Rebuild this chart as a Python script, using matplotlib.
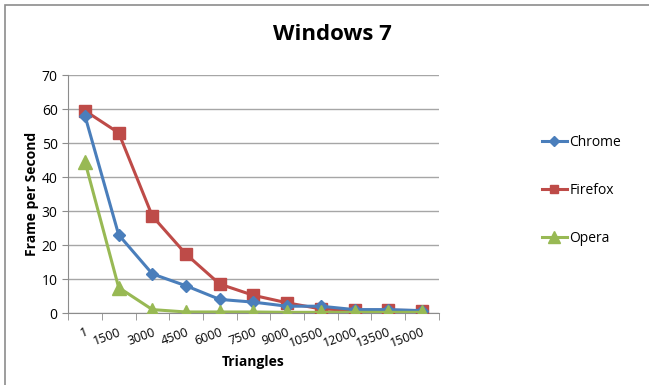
import matplotlib.pyplot as plt
from matplotlib.patches import Rectangle
from matplotlib.ticker import FixedLocator

plt.rcParams['font.family'] = ['Open Sans', 'DejaVu Sans']

triangles = ['1', '1500', '3000', '4500', '6000', '7500', '9000',
             '10500', '12000', '13500', '15000']
chrome = [58, 23, 11.5, 8, 4, 3.2, 2, 2, 1, 1, 0.7]
firefox = [59.5, 53, 28.5, 17.3, 8.5, 5.2, 3, 1.2, 0.8, 0.8, 0.7]
opera = [44.5, 7.5, 1, 0.3, 0.3, 0.3, 0.2, 0.2, 0.2, 0.2, 0.2]

fig = plt.figure(figsize=(6.49, 3.85), dpi=100)
ax = fig.add_axes([0.105, 0.187, 0.571, 0.618])

# outer frame (cut off on right / bottom like the screenshot)
fig.patches.append(Rectangle((5 / 649, -0.1), 1.2, 1 - 5 / 385 + 0.1,
                             transform=fig.transFigure, fill=False,
                             edgecolor='#8c8c8c', lw=1.2))

x = list(range(len(triangles)))
ax.plot(x, chrome, color='#4a7ebb', lw=2.2, marker='D', ms=6,
        label='Chrome', zorder=4)
ax.plot(x, firefox, color='#be4b48', lw=2.2, marker='s', ms=8,
        label='Firefox', zorder=3)
ax.plot(x, opera, color='#98b954', lw=2.2, marker='^', ms=10,
        label='Opera', zorder=5)

ax.set_xlim(-0.5, len(triangles) - 0.5)
ax.set_ylim(0, 70)
ax.set_yticks(range(0, 71, 10))
ax.set_xticks(x)
ax.set_xticklabels(triangles, rotation=20, fontsize=9, ha='right',
                   rotation_mode='anchor')
ax.tick_params(axis='x', which='major', length=0, pad=9)
ax.xaxis.set_minor_locator(FixedLocator([i - 0.5 for i in range(len(triangles) + 1)]))
ax.tick_params(axis='x', which='minor', length=5, color='#8c8c8c')
ax.tick_params(axis='y', length=4, color='#8c8c8c', labelsize=10)
ax.grid(axis='y', color='#a6a6a6', lw=1)
ax.set_axisbelow(True)
for s in ['top', 'right']:
    ax.spines[s].set_visible(False)
for s in ['left', 'bottom']:
    ax.spines[s].set_color('#8c8c8c')

fig.text(0.513, 0.91, 'Windows 7', fontsize=16, fontweight='bold',
         ha='center', va='center')
ax.set_ylabel('Frame per Second', fontsize=10, fontweight='bold', labelpad=2)
ax.set_xlabel('Triangles', fontsize=10, fontweight='bold', labelpad=4)

fig.legend(loc='upper left', bbox_to_anchor=(0.826, 0.665), frameon=False,
           fontsize=10, handlelength=1.8, handletextpad=0.2,
           labelspacing=2.4, borderaxespad=0, markerscale=0.8)

fig.savefig('out.png', dpi=100, facecolor='white')
